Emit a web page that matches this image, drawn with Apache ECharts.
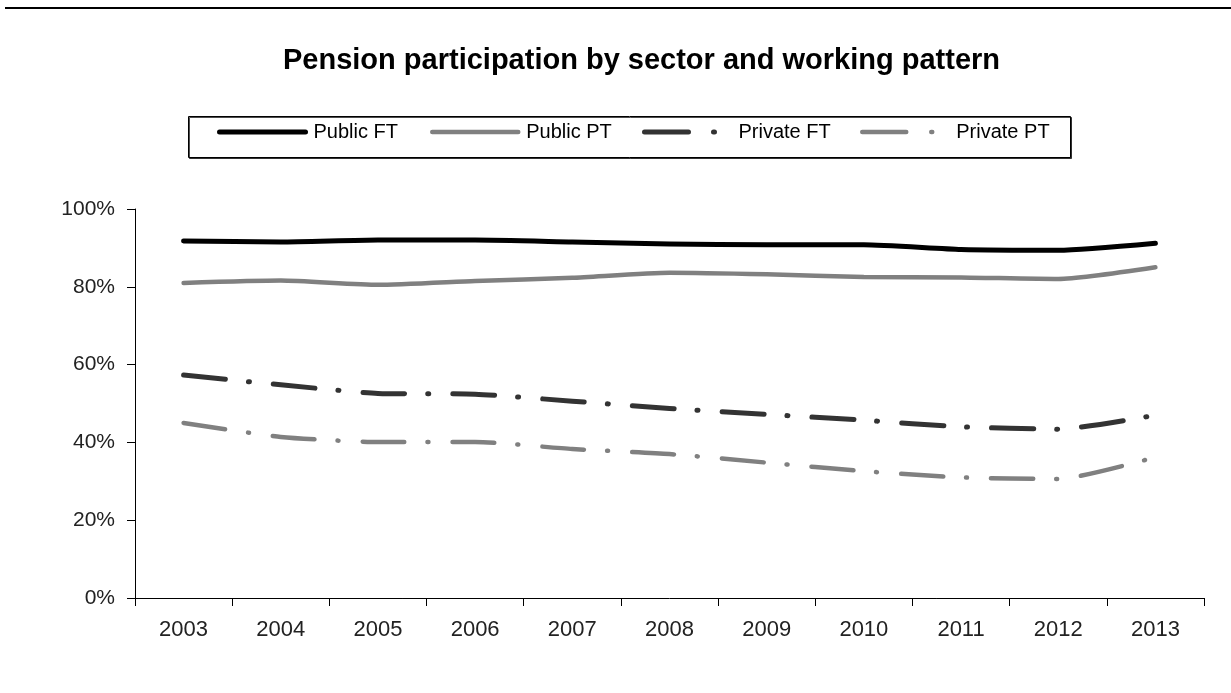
<!DOCTYPE html>
<html><head><meta charset="utf-8">
<script src="https://cdn.jsdelivr.net/npm/echarts@6/dist/echarts.min.js"></script>
<style>html,body{margin:0;padding:0;background:#fff}#c{width:1231px;height:693px}</style>
</head><body><div id="c"></div>
<script>
const years = ['2003','2004','2005','2006','2007','2008','2009','2010','2011','2012','2013'];
const publicFT  = [91.8, 91.5, 92.0, 92.0, 91.5, 91.0, 90.8, 90.8, 89.6, 89.4, 91.2];
const publicPT  = [81.0, 81.6, 80.5, 81.5, 82.3, 83.6, 83.2, 82.5, 82.4, 82.0, 85.0];
const privateFT = [57.3, 54.8, 52.6, 52.4, 50.6, 48.7, 47.2, 45.7, 44.0, 43.4, 47.0];
const privatePT = [45.0, 41.4, 40.1, 40.1, 38.3, 37.0, 34.8, 32.6, 31.0, 30.6, 36.2];

const font = 'Liberation Sans, Arial, sans-serif';
const dashDot = [42, 23, 1, 24];
const series = [
  {name:'Public FT', data:publicFT, color:'#000000', type:'solid', width:5},
  {name:'Public PT', data:publicPT, color:'#808080', type:'solid', width:4.5},
  {name:'Private FT', data:privateFT, color:'#333333', type:dashDot, width:5},
  {name:'Private PT', data:privatePT, color:'#808080', type:dashDot, width:4.5}
];
const legendLeft = [217, 430, 642, 860];
const legendDash = [44, 25, 1, 40];

const chart = echarts.init(document.getElementById('c'));
chart.setOption({
  animation:false,
  backgroundColor:'#fff',
  title:{text:'Pension participation by sector and working pattern', left:278, top:41,
    textStyle:{fontFamily:font, fontSize:29, fontWeight:'bold', color:'#000'}},
  graphic:[
    {type:'line', shape:{x1:5,y1:8,x2:1231,y2:8}, style:{stroke:'#000', lineWidth:2}},
    {type:'rect', shape:{x:188.5,y:116.5,width:882,height:41}, style:{fill:'#fff', stroke:'#000', lineWidth:1, shadowColor:'rgba(0,0,0,0.7)', shadowOffsetX:1, shadowOffsetY:1}, z:-1}
  ],
  legend: series.map((s,i)=>({
    left:legendLeft[i], top:122, padding:0, itemWidth:86, itemHeight:20, itemGap:0,
    textStyle:{fontFamily:font, fontSize:20, color:'#000', padding:[0,0,0,3]},
    data:[{name:s.name, itemStyle:{opacity:0}, lineStyle:{width:s.width, opacity:1, type: s.type==='solid' ? 'solid' : legendDash, cap:'round'}}]
  })),
  grid:{left:135, right:27, top:209, bottom:95, containLabel:false},
  xAxis:{type:'category', data:years, boundaryGap:true,
    axisLine:{lineStyle:{color:'#000', width:1}},
    axisTick:{show:true, length:8, alignWithLabel:false, lineStyle:{color:'#000'}},
    axisLabel:{fontFamily:font, fontSize:22, color:'#222', margin:21}},
  yAxis:{type:'value', min:0, max:100, interval:20,
    axisLine:{show:true, lineStyle:{color:'#000', width:1}},
    axisTick:{show:true, length:8, lineStyle:{color:'#000'}},
    splitLine:{show:false},
    axisLabel:{fontFamily:font, fontSize:21, color:'#222', margin:20, formatter:v=>v+'%'}},
  series: series.map(s=>({
    name:s.name, type:'line', data:s.data, smooth:0.2, symbol:'none',
    itemStyle:{color:s.color},
    lineStyle:{color:s.color, width:s.width, type:s.type, cap:'round', join:'round'}
  }))
});
</script></body></html>
